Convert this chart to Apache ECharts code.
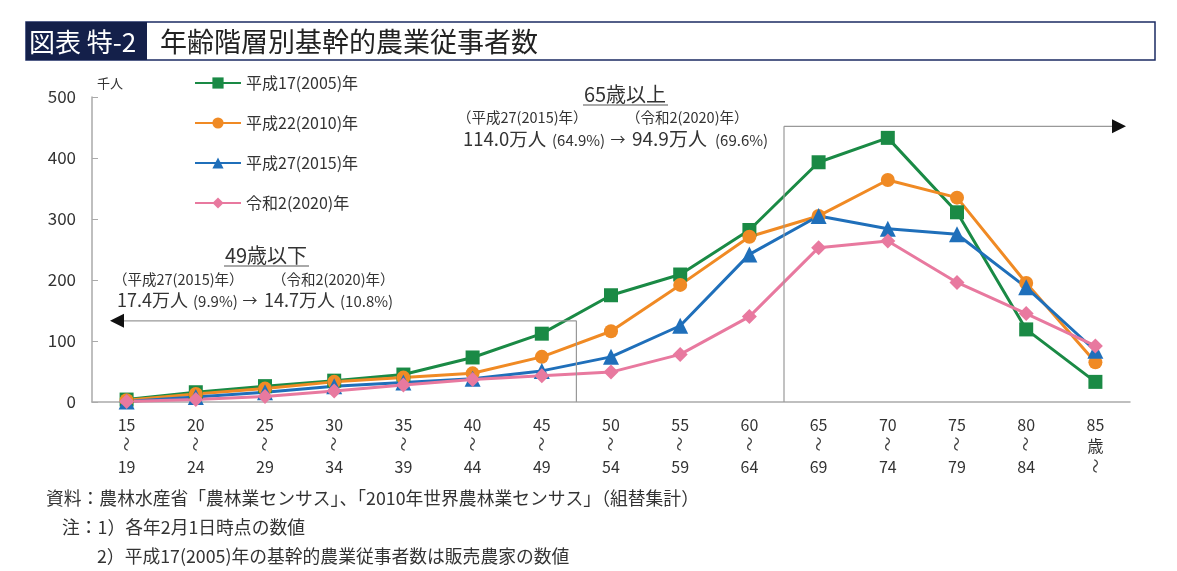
<!DOCTYPE html>
<html>
<head>
<meta charset="utf-8">
<script src="https://cdn.jsdelivr.net/npm/echarts@6/dist/echarts.min.js"></script>
<style>
  html, body { margin: 0; padding: 0; background: #fff; }
  #chart { width: 1177px; height: 571px; }
</style>
</head>
<body>
<div id="chart"></div>
<script>
// 年齢階層（横軸）: 上段・下段
var ageFrom = ['15', '20', '25', '30', '35', '40', '45', '50', '55', '60', '65', '70', '75', '80', '85'];
var ageTo = ['19', '24', '29', '34', '39', '44', '49', '54', '59', '64', '69', '74', '79', '84', ''];
var seriesNames = ['平成17(2005)年', '平成22(2010)年', '平成27(2015)年', '令和2(2020)年'];
// 千人
var v2005 = [4, 16, 26, 35, 45, 73, 112, 175, 209, 282, 393, 433, 311, 119, 33];
var v2010 = [3, 13, 22, 33, 40, 47, 74, 116, 192, 271, 305, 364, 335, 195, 65];
var v2015 = [1, 8, 16, 26, 32, 38, 51, 74, 125, 242, 305, 284, 275, 188, 84];
var v2020 = [1, 4, 9, 18, 28, 37, 43, 49, 78, 140, 253, 264, 196, 145, 92];
var yTicks = [0, 100, 200, 300, 400, 500];

var FONT = '"Noto Sans CJK JP", "Noto Sans", sans-serif';
var colors = ['#1a8a45', '#f08a24', '#1f6fba', '#e8799f'];
var symbols = ['rect', 'circle', 'triangle', 'diamond'];
var symbolSizes = [14, 14, 16, 15];
var allValues = [v2005, v2010, v2015, v2020];

var chart = echarts.init(document.getElementById('chart'));

function makeSeries(i) {
  return {
    name: seriesNames[i], type: 'line', data: allValues[i],
    symbol: symbols[i], symbolSize: symbolSizes[i],
    lineStyle: { color: colors[i], width: 3 },
    itemStyle: { color: colors[i] },
    emphasis: { disabled: true }
  };
}

var option = {
  animation: false,
  textStyle: { fontFamily: FONT },
  grid: { left: 92, right: 47, top: 97, bottom: 169 },
  legend: {
    orient: 'vertical', left: 189, top: 70, itemGap: 24,
    itemWidth: 46, itemHeight: 14,
    textStyle: { fontSize: 16, color: '#333', fontFamily: FONT },
    data: seriesNames
  },
  xAxis: {
    type: 'category', data: ageFrom, boundaryGap: true,
    axisLine: { lineStyle: { color: '#aaa', width: 1.5 } },
    axisTick: { alignWithLabel: true, length: 6, lineStyle: { color: '#aaa' } },
    axisLabel: {
      interval: 0, margin: 12, color: '#333', fontSize: 16, lineHeight: 21, fontFamily: FONT,
      // 中段の「〜」は縦向きにして別に描く
      formatter: function (v, i) {
        if (ageTo[i] === '') return v + '\n歳\n ';
        return v + '\n \n' + ageTo[i];
      }
    }
  },
  yAxis: {
    type: 'value', min: 0, max: 500, interval: 100,
    axisLine: { show: true, lineStyle: { color: '#aaa', width: 1.5 } },
    axisTick: { show: true, inside: true, length: 6, lineStyle: { color: '#aaa' } },
    splitLine: { show: false },
    axisLabel: {
      color: '#333', fontSize: 17, margin: 16, fontFamily: FONT,
      formatter: function (v) { return yTicks.indexOf(v) >= 0 ? String(v) : ''; }
    }
  },
  series: [makeSeries(0), makeSeries(1), makeSeries(2), makeSeries(3)]
};
chart.setOption(option);

// 注記・括弧線
function px(idx, val) { return chart.convertToPixel({ xAxisIndex: 0, yAxisIndex: 0 }, [idx, val]); }
var x49 = (px(6, 0)[0] + px(7, 0)[0]) / 2;
var x65 = (px(9, 0)[0] + px(10, 0)[0]) / 2;
var y0 = px(0, 0)[1];
var y49 = px(0, 133)[1];
var y65 = px(0, 452)[1];
var xLeftEnd = 110, xRightEnd = 1126;

function txt(x, y, text, size, extra) {
  var s = { x: x, y: y, text: text, fontSize: size, fill: '#333', fontFamily: FONT, textVerticalAlign: 'middle' };
  for (var k in extra) s[k] = extra[k];
  return { type: 'text', style: s, z: 10 };
}
function line(x1, y1, x2, y2, color, w) {
  return { type: 'line', shape: { x1: x1, y1: y1, x2: x2, y2: y2 }, style: { stroke: color, lineWidth: w }, z: 5 };
}
function arrowHead(tipX, y, dir) {
  return { type: 'polygon', shape: { points: [[tipX, y], [tipX - dir * 14, y - 7], [tipX - dir * 14, y + 7]] }, style: { fill: '#111' }, z: 6 };
}
function wave(cx, cy) {
  return {
    type: 'text', x: cx, y: cy, rotation: -Math.PI / 2, z: 10,
    style: { x: 0, y: 0, text: '〜', fontSize: 15, fill: '#444', fontFamily: FONT, textAlign: 'center', textVerticalAlign: 'middle' }
  };
}

var graphics = [
  // タイトルバー
  { type: 'rect', shape: { x: 26, y: 22, width: 1129, height: 38 }, style: { fill: '#fff', stroke: '#1b2b63', lineWidth: 1.5 } },
  { type: 'rect', shape: { x: 26, y: 22, width: 121, height: 38 }, style: { fill: '#14204a' } },
  txt(29, 42, '図表 特-2', 26, { fill: '#fff' }),
  txt(160, 42, '年齢階層別基幹的農業従事者数', 27, { fill: '#222' }),
  txt(97, 83, '千人', 13),

  // 65歳以上
  line(x65, y0, x65, y65, '#999', 1.2),
  line(x65, y65, xRightEnd - 12, y65, '#999', 1.2),
  arrowHead(xRightEnd, y65, 1),
  txt(625, 94, '65歳以上', 20, { textAlign: 'center' }),
  line(583, 105, 668, 105, '#555', 1.2),
  txt(457, 117, '（平成27(2015)年）', 14.5),
  txt(626, 117, '（令和2(2020)年）', 14.5),
  txt(463, 139, '114.0万人', 18.5),
  txt(552, 140, '(64.9%)', 15),
  txt(618, 139, '→', 15, { textAlign: 'center' }),
  txt(632, 139, '94.9万人', 19),
  txt(715, 140, '(69.6%)', 15),

  // 49歳以下
  line(x49, y0, x49, y49, '#999', 1.2),
  line(x49, y49, xLeftEnd + 12, y49, '#999', 1.2),
  arrowHead(xLeftEnd, y49, -1),
  txt(266, 255, '49歳以下', 20, { textAlign: 'center' }),
  line(224, 266, 309, 266, '#555', 1.2),
  txt(113, 279, '（平成27(2015)年）', 14.5),
  txt(272, 279, '（令和2(2020)年）', 14.5),
  txt(117, 300, '17.4万人', 18),
  txt(193, 301, '(9.9%)', 15),
  txt(250, 300, '→', 15, { textAlign: 'center' }),
  txt(264, 300, '14.7万人', 18),
  txt(340, 301, '(10.8%)', 15),

  // 資料・注
  txt(46, 498, '資料：農林水産省「農林業センサス」、「2010年世界農林業センサス」（組替集計）', 17.8),
  txt(62, 527, '注：1）各年2月1日時点の数値', 17.8),
  txt(97, 556, '2）平成17(2005)年の基幹的農業従事者数は販売農家の数値', 17.8)
];

// 横軸ラベルの「〜」（縦向き）
for (var i = 0; i < ageFrom.length; i++) {
  var cx = px(i, 0)[0];
  graphics.push(wave(cx, ageTo[i] === '' ? y0 + 64 : y0 + 42));
}

chart.setOption({ graphic: graphics });
</script>
</body>
</html>
